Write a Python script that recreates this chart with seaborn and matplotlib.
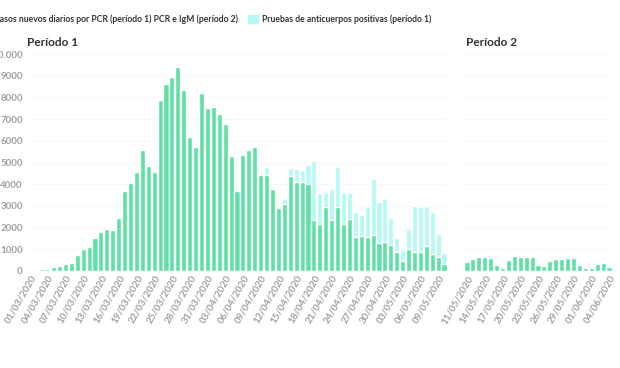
import matplotlib.pyplot as plt
import numpy as np
import pandas as pd
import seaborn as sns

# Period 1: 01/03/2020 - 10/05/2020
pcr_p1 = [50, 60, 70, 90, 170, 250, 320, 380, 740, 1010,
          1120, 1540, 1780, 1950, 1870, 2430, 3700, 4070, 4550, 5560,
          4850, 4560, 7880, 8630, 8950, 9400, 8340, 6160, 5700, 8220,
          7530, 7570, 7230, 6760, 5310, 3670, 5350, 5580, 5700, 4440,
          4410, 3780, 2920, 3100, 4380, 4090, 4090, 4000, 2340, 2180,
          2960, 2360, 2960, 2180, 2400, 1560, 1620, 1560, 1660, 1270,
          1340, 1180, 870, 440, 1020, 870, 870, 1130, 780, 660,
          320]
anticuerpos_p1 = [0] * 40 + [
    370, 0, 0, 200, 350, 600, 560, 880, 2750,
    1400, 700, 1420, 1820, 1440, 1190, 1170, 940, 1450, 2590,
    1930, 1960, 1250, 670, 540, 920, 2130, 2090, 1880, 1950,
    1040, 510]
# Period 2: 11/05/2020 - 04/06/2020
pcr_p2 = [400, 540, 630, 630, 600, 260, 160, 500, 690, 640,
          640, 650, 280, 210, 450, 560, 560, 580, 600, 270,
          130, 120, 330, 350, 200]

dias_p1 = pd.date_range('2020-03-01', periods=len(pcr_p1)).strftime('%d/%m/%Y')
dias_p2 = pd.date_range('2020-05-11', periods=len(pcr_p2)).strftime('%d/%m/%Y')

verde = '#5fe1a5'
cian = '#b5f9f2'
gris = '#a0a0a0'

sns.set_style('white')
plt.rcParams['font.family'] = ['Lato', 'DejaVu Sans']

fig = plt.figure(figsize=(6.2, 3.68), dpi=100)
ax1 = fig.add_axes([27 / 620, 1 - 271 / 368, 420 / 620, 217 / 368])
ax2 = fig.add_axes([464 / 620, 1 - 271 / 368, 148 / 620, 217 / 368], sharey=ax1)

df1 = pd.DataFrame({'dia': dias_p1, 'pcr': pcr_p1,
                    'total': np.array(pcr_p1) + np.array(anticuerpos_p1)})
df2 = pd.DataFrame({'dia': dias_p2, 'pcr': pcr_p2})

sns.barplot(data=df1, x='dia', y='total', color=cian, saturation=1, width=0.86,
            ax=ax1)
sns.barplot(data=df1, x='dia', y='pcr', color=verde, saturation=1, width=0.86,
            ax=ax1)
sns.barplot(data=df2, x='dia', y='pcr', color=verde, saturation=1, width=0.86,
            ax=ax2)

ax1.set_ylim(0, 10000)
ax1.set_yticks(range(0, 10001, 1000))
ax1.set_yticklabels([str(v) if v < 10000 else '10.000' for v in range(0, 10001, 1000)])
ax1.set_xlim(-0.5, len(pcr_p1) - 0.5)
ax2.set_xlim(-0.5, len(pcr_p2) - 0.5)

for ax, dias in ((ax1, dias_p1), (ax2, dias_p2)):
    pos = list(range(0, len(dias), 3))
    ax.set_xticks(pos)
    ax.set_xticklabels([dias[i] for i in pos], rotation=60, ha='right',
                       rotation_mode='anchor', fontsize=7, color=gris,
                       fontweight='bold')
    ax.set_xlabel(None)
    ax.set_ylabel(None)
    ax.grid(axis='y', color='#f7f7f7', lw=0.6)
    ax.set_axisbelow(True)
    ax.tick_params(length=0, pad=2)
    sns.despine(ax=ax, left=True, bottom=True)

for lab in ax1.get_yticklabels():
    lab.set_color(gris)
    lab.set_fontweight('bold')
    lab.set_fontsize(7)
ax1.tick_params(axis='y', pad=3)
ax2.tick_params(axis='y', labelleft=False)

fig.text(27 / 620, 1 - 42 / 368, 'Período 1', fontsize=8.5, fontweight='bold',
         color='#333333', va='center')
fig.text(466 / 620, 1 - 42 / 368, 'Período 2', fontsize=8.5, fontweight='bold',
         color='#333333', va='center')

# legend strip along the top
fig.text(238 / 620, 1 - 19 / 368,
         'Casos nuevos diarios por PCR (período 1) PCR e IgM (período 2)',
         fontsize=6.2, fontweight='bold', color='#333333', ha='right', va='center')
fig.patches.append(plt.Rectangle((248 / 620, 1 - 23 / 368), 10 / 620, 8 / 368,
                                 transform=fig.transFigure, color=cian))
fig.text(262 / 620, 1 - 19 / 368, 'Pruebas de anticuerpos positivas (período 1)',
         fontsize=6.2, fontweight='bold', color='#333333', va='center')

fig.savefig('out.png', dpi=100)
